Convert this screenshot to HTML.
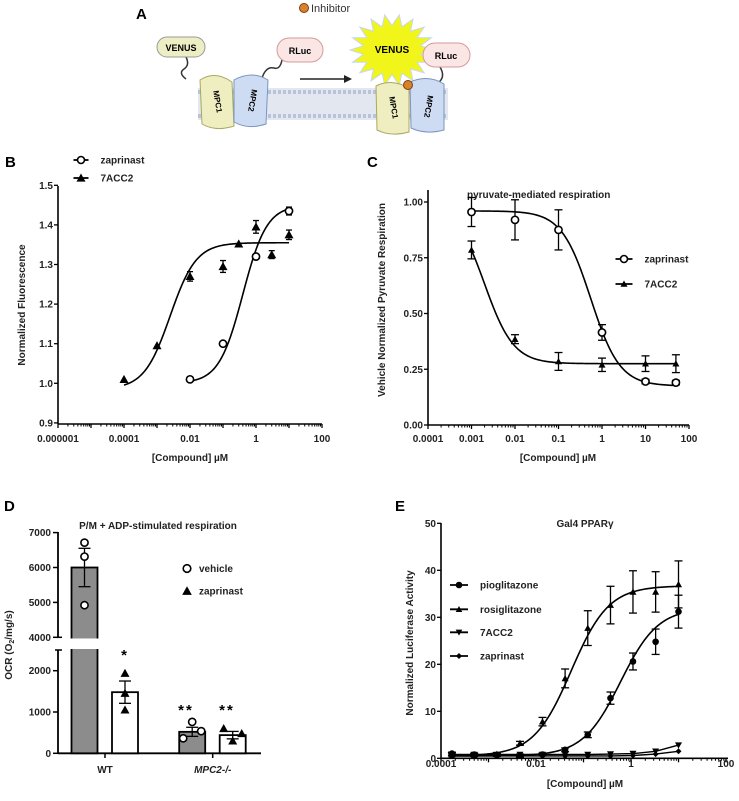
<!DOCTYPE html>
<html><head><meta charset="utf-8"><style>
html,body{margin:0;padding:0;background:#fff;}
svg{display:block;font-family:"Liberation Sans",Arial,sans-serif;}
.t{font-size:10px;font-weight:bold;fill:#222;}
.pl{font-size:15px;font-weight:bold;fill:#000;}
</style></head><body>
<svg id="fig" width="739" height="801" viewBox="0 0 739 801" xmlns="http://www.w3.org/2000/svg">
<!-- Panel A -->
<g>
<text class="pl" x="136" y="19">A</text>
<circle cx="304" cy="8" r="4.5" fill="#d9822b" stroke="#7a4010" stroke-width="1"/>
<text x="311" y="12" font-size="11" fill="#333">Inhibitor</text>
<rect x="198" y="88" width="250" height="32" fill="#e3e8f0"/>
<line x1="198" y1="92" x2="448" y2="92" stroke="#b8c2d8" stroke-width="4" stroke-dasharray="3,2"/>
<line x1="198" y1="116" x2="448" y2="116" stroke="#b8c2d8" stroke-width="4" stroke-dasharray="3,2"/>
<path d="M186 57 q4 8 -2 12 q-6 4 2 10" fill="none" stroke="#333" stroke-width="1.5"/>
<path d="M262 78 q4 -12 12 -10 q6 2 8 -8" fill="none" stroke="#333" stroke-width="1.5"/>
<rect x="157" y="37" width="48" height="20" rx="10" fill="#eeeec4" stroke="#999"/>
<text x="181" y="51" font-size="9" font-weight="bold" text-anchor="middle">VENUS</text>
<rect x="277" y="38" width="46" height="24" rx="12" fill="#fbe6e6" stroke="#d49a9a"/>
<text x="300" y="54" font-size="9" font-weight="bold" text-anchor="middle">RLuc</text>
<path d="M200 80 q15 -10 32 2 l2 44 q-18 6 -32 -2 z" fill="#efeec0" stroke="#a9a860"/>
<text transform="translate(215,102) rotate(80)" font-size="8" font-weight="bold" text-anchor="middle">MPC1</text>
<path d="M234 80 q18 -10 34 0 l-2 44 q-18 6 -32 -2 z" fill="#cddcf2" stroke="#7a95c0"/>
<text transform="translate(250,100) rotate(100)" font-size="8" font-weight="bold" text-anchor="middle">MPC2</text>
<line x1="300" y1="79" x2="346" y2="79" stroke="#222" stroke-width="1.5"/>
<polygon points="352,79 344,75 344,83" fill="#222"/>
<polygon id="star" fill="#f2f51a" stroke="#c7d8f0" stroke-width="1"/>
<text x="392" y="53" font-size="10" font-weight="bold" text-anchor="middle">VENUS</text>
<path d="M440 67 q6 10 -2 16 q-6 6 4 14" fill="none" stroke="#333" stroke-width="1.5"/>
<rect x="423" y="43" width="47" height="24" rx="12" fill="#fbe6e6" stroke="#d49a9a"/>
<text x="446" y="59" font-size="9" font-weight="bold" text-anchor="middle">RLuc</text>
<path d="M376 86 q15 -8 33 2 l0 44 q-18 5 -32 -2 z" fill="#efeec0" stroke="#a9a860"/>
<text transform="translate(391,108) rotate(80)" font-size="8" font-weight="bold" text-anchor="middle">MPC1</text>
<path d="M410 82 q18 -8 34 2 l0 46 q-18 5 -33 -2 z" fill="#cddcf2" stroke="#7a95c0"/>
<text transform="translate(426,106) rotate(100)" font-size="8" font-weight="bold" text-anchor="middle">MPC2</text>
<circle cx="408" cy="85" r="4.5" fill="#d9822b" stroke="#7a4010"/>
</g>

<!-- Panel labels & titles -->
<text class="pl" x="5" y="167">B</text>
<text class="pl" x="367" y="167">C</text>
<text class="pl" x="4" y="511">D</text>
<text class="pl" x="395" y="511">E</text>

<text class="t" transform="translate(25,305) rotate(-90)" text-anchor="middle">Normalized Fluorescence</text>
<text class="t" x="190" y="461" text-anchor="middle">[Compound] µM</text>
<text class="t" transform="translate(385,300) rotate(-90)" text-anchor="middle">Vehicle Normalized Pyruvate Respiration</text>
<text class="t" x="558" y="461" text-anchor="middle">[Compound] µM</text>
<text class="t" x="467" y="198">pyruvate-mediated respiration</text>
<text class="t" x="158" y="529" text-anchor="middle">P/M + ADP-stimulated respiration</text>
<text class="t" transform="translate(12,645) rotate(-90)" text-anchor="middle">OCR (O<tspan font-size="7" dy="2">2</tspan><tspan dy="-2">/mg/s)</tspan></text>
<text class="t" x="585" y="527" text-anchor="middle" font-size="9">Gal4 PPARγ</text>
<text class="t" transform="translate(413,643) rotate(-90)" text-anchor="middle">Normalized Luciferase Activity</text>
<text class="t" x="585" y="787" text-anchor="middle">[Compound] µM</text>
<g id="plots"></g>
</svg>
<script>
// ---- Panel B data ----
const bConc7 = [0.0001, 0.001, 0.01, 0.1, 0.3, 1, 3, 10];
const bVals7 = [1.01, 1.095, 1.27, 1.295, 1.352, 1.395, 1.325, 1.375];
const bErr7 = [0, 0, 0.012, 0.015, 0, 0.016, 0.01, 0.012];
const bConcZap = [0.01, 0.1, 1, 10];
const bValsZap = [1.01, 1.10, 1.32, 1.435];
const bErrZap = [0, 0, 0, 0.01];
const bFit7 = [0.985, 1.355, 0.0025, 1.1];
const bFitZap = [1.0, 1.45, 0.4, 1.2];
const bYTicks = [0.9, 1.0, 1.1, 1.2, 1.3, 1.4, 1.5];
const bYLabels = ["0.9", "1.0", "1.1", "1.2", "1.3", "1.4", "1.5"];
const bXLabels = ["0.000001", "0.0001", "0.01", "1", "100"];
// ---- Panel C data ----
const cConc = [0.001, 0.01, 0.1, 1, 10, 50];
const cValsZap = [0.955, 0.92, 0.875, 0.415, 0.195, 0.19];
const cErrZap = [0.065, 0.09, 0.09, 0.035, 0.01, 0.01];
const cVals7 = [0.785, 0.385, 0.285, 0.27, 0.275, 0.275];
const cErr7 = [0.04, 0.02, 0.04, 0.03, 0.035, 0.04];
const cFitZap = [0.175, 0.96, 0.55, 1.3];
const cFit7 = [0.275, 0.99, 0.002, 1.3];
const cYTicks = [0, 0.25, 0.5, 0.75, 1.0];
const cYLabels = ["0.00", "0.25", "0.50", "0.75", "1.00"];
const cXLabels = [];
// ---- Panel D data ----
const dGroups = ["WT", "MPC2-/-"];
const dVehMean = [6000, 520];
const dVehErr = [550, 110];
const dZapMean = [1480, 440];
const dZapErr = [270, 90];
const dVehPts = [[6713, 6312, 4920], [363, 760, 536]];
const dZapPts = [[1937, 1453, 1050], [600, 300, 480]];
const dYTicksUpper = [4000, 5000, 6000, 7000];
const dYTicksLower = [0, 1000, 2000];
// ---- Panel E data ----
const eConc = [0.00017, 0.0005, 0.0015, 0.0046, 0.0137, 0.041, 0.123, 0.37, 1.1, 3.3, 10];
const ePio = [1.0, 0.8, 0.7, 0.6, 0.8, 1.8, 5.0, 12.8, 20.6, 24.8, 31.2];
const ePioErr = [0.3, 0.3, 0.3, 0.3, 0.3, 0.4, 0.6, 1.3, 1.8, 2.7, 3.5];
const eRosi = [0.8, 0.7, 0.9, 3.2, 7.8, 17.0, 27.7, 32.6, 35.4, 35.4, 37.0];
const eRosiErr = [0.3, 0.3, 0.3, 0.4, 0.9, 2.0, 3.7, 4.0, 4.5, 4.3, 5.0];
const e7ACC2 = [0.8, 0.8, 0.8, 0.8, 0.8, 0.8, 0.8, 0.9, 1.0, 1.5, 2.8];
const eZap = [0.5, 0.5, 0.5, 0.5, 0.5, 0.5, 0.5, 0.5, 0.6, 0.9, 1.5];
const ePioFit = [0.5, 32, 0.6, 1.1];
const eRosiFit = [0.5, 36.7, 0.055, 1.1];
const eYTicks = [0, 10, 20, 30, 40, 50];
const eXLabels = ["0.0001", "0.01", "1", "100"];

const NS = "http://www.w3.org/2000/svg";
const root = document.getElementById('plots');
function mk(tag, attrs, parent) {
  const e = document.createElementNS(NS, tag);
  for (const k in attrs) e.setAttribute(k, attrs[k]);
  (parent || root).appendChild(e);
  return e;
}
function txt(s, x, y, anchor, parent) {
  const e = mk('text', {x: x, y: y, 'text-anchor': anchor, class: 't'}, parent);
  e.textContent = s;
  return e;
}
const L = Math.log10;
const xB = v => 58 + (L(v) + 6) * 33, yB = v => 383.3 - (v - 1.0) * 396;
const xC = v => 428 + (L(v) + 4) * 43.5, yC = v => 425 - v * 223;
const xE = v => 441 + (L(v) + 4) * 47.5, yE = v => 758.3 - v * 4.7;
const yD = v => v <= 2400 ? 753.3 - v * 0.0413 : 637.3 - (v - 4000) * 0.0349;

// star burst for panel A
(function () {
  const pts = []; const n = 18;
  for (let i = 0; i < n * 2; i++) {
    const r = i % 2 ? 29 : 42; const a = Math.PI * i / n;
    pts.push((392 + r * Math.cos(a)).toFixed(1) + ',' + (50 + r * 0.85 * Math.sin(a)).toFixed(1));
  }
  document.getElementById('star').setAttribute('points', pts.join(' '));
})();

function logXAxis(xs, x0, x1, y, e0, e1, labels, labelY, name) {
  const g = mk('g', {});
  
  
  mk('line', {x1: x0, y1: y, x2: x1, y2: y, stroke: '#000', 'stroke-width': 1.6}, g);
  for (let e = e0; e <= e1; e++) {
    mk('line', {x1: xs(Math.pow(10, e)), y1: y, x2: xs(Math.pow(10, e)), y2: y + 4, stroke: '#000', 'stroke-width': 1.3}, g);
    if (e < e1) for (let m = 2; m <= 9; m++) {
      const xx = xs(m * Math.pow(10, e));
      mk('line', {x1: xx, y1: y, x2: xx, y2: y + 2.5, stroke: '#000', 'stroke-width': 1}, g);
    }
  }
  labels.forEach(function (s) {
    const t = txt(s, xs(parseFloat(s)), labelY, 'middle', g);
    
    
  });
}
function linYAxis(ys, x, vals, labels, yTop, yBot, name) {
  const g = mk('g', {});
  
  
  mk('line', {x1: x, y1: yTop, x2: x, y2: yBot, stroke: '#000', 'stroke-width': 1.6}, g);
  vals.forEach(function (v, i) {
    mk('line', {x1: x - 4, y1: ys(v), x2: x, y2: ys(v), stroke: '#000', 'stroke-width': 1.3}, g);
    const t = txt(labels[i], x - 5, ys(v) + 3.5, 'end', g);
    
    
  });
}
function hillPath(xs, ys, p, lo, hi, rising) {
  let d = '';
  for (let i = 0; i <= 120; i++) {
    const c = Math.pow(10, L(lo) + (L(hi) - L(lo)) * i / 120);
    const r = Math.pow(c / p[2], p[3]);
    const v = rising ? p[0] + (p[1] - p[0]) * r / (1 + r) : p[0] + (p[1] - p[0]) / (1 + r);
    d += (i ? 'L' : 'M') + xs(c).toFixed(2) + ' ' + ys(v).toFixed(2);
  }
  return d;
}
function errBar(x, y1, y2, w, g) {
  mk('line', {x1: x, y1: y1, x2: x, y2: y2, stroke: '#000', 'stroke-width': 1.3}, g);
  mk('line', {x1: x - w, y1: y1, x2: x + w, y2: y1, stroke: '#000', 'stroke-width': 1.3}, g);
  mk('line', {x1: x - w, y1: y2, x2: x + w, y2: y2, stroke: '#000', 'stroke-width': 1.3}, g);
}
function marker(kind, x, y, s, g) {
  if (kind === 'circle') return mk('circle', {cx: x, cy: y, r: s, fill: '#fff', stroke: '#000', 'stroke-width': 1.6}, g);
  if (kind === 'dot') return mk('circle', {cx: x, cy: y, r: s, fill: '#000'}, g);
  if (kind === 'tri') return mk('polygon', {points: [x, y - s, x - s, y + s * 0.8, x + s, y + s * 0.8].join(','), fill: '#000'}, g);
  if (kind === 'vtri') return mk('polygon', {points: [x, y + s, x - s, y - s * 0.8, x + s, y - s * 0.8].join(','), fill: '#000'}, g);
  if (kind === 'diam') return mk('polygon', {points: [x, y - s, x - s, y, x, y + s, x + s, y].join(','), fill: '#000'}, g);
}
function series(name, xs, ys, conc, vals, errs, kind, size, cw) {
  const g = mk('g', {});
  
  
  conc.forEach(function (c, i) {
    if (errs[i] > 0) errBar(xs(c), ys(vals[i] + errs[i]), ys(vals[i] - errs[i]), cw, g);
    const m = marker(kind, xs(c), ys(vals[i]), size, g);
    
    
  });
  return g;
}
function legend(kind, x, y, label, size, len, name) {
  const g = mk('g', {});
  
  
  if (len > 0) mk('line', {x1: x - len / 2, y1: y, x2: x + len / 2, y2: y, stroke: '#000', 'stroke-width': 1.8}, g);
  marker(kind, x, y, size, g);
  txt(label, x + len / 2 + 12, y + 3.5, 'start', g);
}

// ===== Panel B =====
linYAxis(yB, 58, bYTicks, bYLabels, 186, 424, 'b-y-axis');
logXAxis(xB, 58, 322, 424, -6, 2, bXLabels, 442, 'b-x-axis');
let p = mk('path', {d: hillPath(xB, yB, bFit7, 0.0001, 10, true), fill: 'none', stroke: '#000', 'stroke-width': 1.6});


p = mk('path', {d: hillPath(xB, yB, bFitZap, 0.01, 10, true), fill: 'none', stroke: '#000', 'stroke-width': 1.6});


series('b-7acc2-series', xB, yB, bConc7, bVals7, bErr7, 'tri', 4.5, 3);
series('b-zaprinast-series', xB, yB, bConcZap, bValsZap, bErrZap, 'circle', 3.6, 3);
legend('circle', 81, 160, 'zaprinast', 3.5, 15, 'b-legend-zaprinast');
legend('tri', 81, 178, '7ACC2', 4.5, 15, 'b-legend-7acc2');

// ===== Panel C =====
linYAxis(yC, 428, cYTicks, cYLabels, 190, 425, 'c-y-axis');
logXAxis(xC, 428, 689, 425, -4, 2, cXLabels, 442, 'c-x-axis');
['0.0001', '0.001', '0.01', '0.1', '1', '10', '100'].forEach(function (s) {
  const t = txt(s, xC(parseFloat(s)), 442, 'middle');
  
  
});
p = mk('path', {d: hillPath(xC, yC, cFitZap, 0.001, 50, false), fill: 'none', stroke: '#000', 'stroke-width': 1.6});


p = mk('path', {d: hillPath(xC, yC, cFit7, 0.001, 50, false), fill: 'none', stroke: '#000', 'stroke-width': 1.6});


series('c-zaprinast-series', xC, yC, cConc, cValsZap, cErrZap, 'circle', 3.6, 4);
series('c-7acc2-series', xC, yC, cConc, cVals7, cErr7, 'tri', 3.5, 4);
legend('circle', 624, 259, 'zaprinast', 3.5, 17, 'c-legend-zaprinast');
legend('tri', 624, 284, '7ACC2', 3.5, 17, 'c-legend-7acc2');

// ===== Panel D =====
(function () {
  const g = mk('g', {});
  
  
  mk('line', {x1: 58, y1: 532, x2: 58, y2: 637.3, stroke: '#000', 'stroke-width': 1.8}, g);
  mk('line', {x1: 58, y1: 650, x2: 58, y2: 753.3, stroke: '#000', 'stroke-width': 1.8}, g);
  mk('line', {x1: 55, y1: 650, x2: 62, y2: 650, stroke: '#000', 'stroke-width': 1.5}, g);
  mk('line', {x1: 58, y1: 637.3, x2: 62, y2: 637.3, stroke: '#000', 'stroke-width': 1.5}, g);
  dYTicksUpper.concat(dYTicksLower).forEach(function (v) {
    mk('line', {x1: 53, y1: yD(v), x2: 58, y2: yD(v), stroke: '#000', 'stroke-width': 1.5}, g);
    const t = txt(String(v), 51, yD(v) + 3.5, 'end', g);
    
    
  });
  const ax = mk('g', {});
  
  
  mk('line', {x1: 58, y1: 753.3, x2: 261, y2: 753.3, stroke: '#000', 'stroke-width': 1.8}, ax);
  const gx = [105, 212.7];
  dGroups.forEach(function (name, i) {
    mk('line', {x1: gx[i], y1: 753.3, x2: gx[i], y2: 758, stroke: '#000', 'stroke-width': 1.5}, ax);
    const t = txt(name, gx[i], 773, 'middle', ax);
    if (i === 1) t.setAttribute('font-style', 'italic');
    
    
  });
  const bw = 26;
  dGroups.forEach(function (name, i) {
    const xv = gx[i] - 20.5, xz = gx[i] + 20;
    [[xv, dVehMean[i], dVehErr[i], '#8c8c8c', dVehPts[i], 'circle', 'vehicle'],
     [xz, dZapMean[i], dZapErr[i], '#fff', dZapPts[i], 'tri', 'zaprinast']].forEach(function (b) {
      const bg = mk('g', {});
      
      
      const yt = yD(b[1]);
      mk('rect', {x: b[0] - bw / 2, y: yt, width: bw, height: 753.3 - yt, fill: b[3], stroke: '#000', 'stroke-width': 1.8}, bg);
      if (b[1] > 4000) mk('rect', {x: b[0] - bw / 2 - 2, y: 638.5, width: bw + 4, height: 10.5, fill: '#fff'}, bg);
      errBar(b[0], yD(b[1] + b[2]), yD(b[1] - b[2]), 6, bg);
      b[4].forEach(function (v, k) {
        const off = b[4].length === 3 ? [-6, 0, 6][k] * (b[1] > 1000 ? 0 : 1.5) : 0;
        const m = marker(b[5], b[0] + off, yD(v), b[5] === 'circle' ? 3.6 : 4.5, bg);
        
        
      });
    });
  });
  const stars = [[125, 660, '*'], [186, 715, '**'], [227, 715, '**']];
  stars.forEach(function (s) {
    const t = mk('text', {x: s[0], y: s[1], 'text-anchor': 'middle', 'font-size': 15, 'font-weight': 'bold', 'letter-spacing': 2});
    t.textContent = s[2];
    
    
  });
  legend('circle', 187, 568.5, 'vehicle', 3.8, 0, 'd-legend-vehicle');
  legend('tri', 187, 591, 'zaprinast', 4.8, 0, 'd-legend-zaprinast');
})();

// ===== Panel E =====
linYAxis(yE, 441, eYTicks, eYTicks.map(String), 523, 758.3, 'e-y-axis');
logXAxis(xE, 441, 728, 758.3, -4, 2, eXLabels, 767, 'e-x-axis');
p = mk('path', {d: hillPath(xE, yE, eRosiFit, 0.00017, 10, true), fill: 'none', stroke: '#000', 'stroke-width': 1.6});


p = mk('path', {d: hillPath(xE, yE, ePioFit, 0.00017, 10, true), fill: 'none', stroke: '#000', 'stroke-width': 1.6});


[[e7ACC2, 'e-7acc2-line'], [eZap, 'e-zaprinast-line']].forEach(function (s) {
  const l = mk('polyline', {points: eConc.map(function (c, i) { return xE(c).toFixed(1) + ',' + yE(s[0][i]).toFixed(1); }).join(' '), fill: 'none', stroke: '#000', 'stroke-width': 1.4});
  
  
});
const zeros = eConc.map(function () { return 0; });
series('e-zaprinast-series', xE, yE, eConc, eZap, zeros, 'diam', 3, 3);
series('e-7acc2-series', xE, yE, eConc, e7ACC2, zeros, 'vtri', 3.5, 3);
series('e-pioglitazone-series', xE, yE, eConc, ePio, ePioErr, 'dot', 3.3, 4);
series('e-rosiglitazone-series', xE, yE, eConc, eRosi, eRosiErr, 'tri', 3.5, 4);
legend('dot', 459, 585, 'pioglitazone', 3.3, 18, 'e-legend-pioglitazone');
legend('tri', 459, 609.3, 'rosiglitazone', 3.3, 18, 'e-legend-rosiglitazone');
legend('vtri', 459, 632.3, '7ACC2', 3.3, 18, 'e-legend-7acc2');
legend('diam', 459, 656, 'zaprinast', 3, 18, 'e-legend-zaprinast');
</script>
</body></html>
